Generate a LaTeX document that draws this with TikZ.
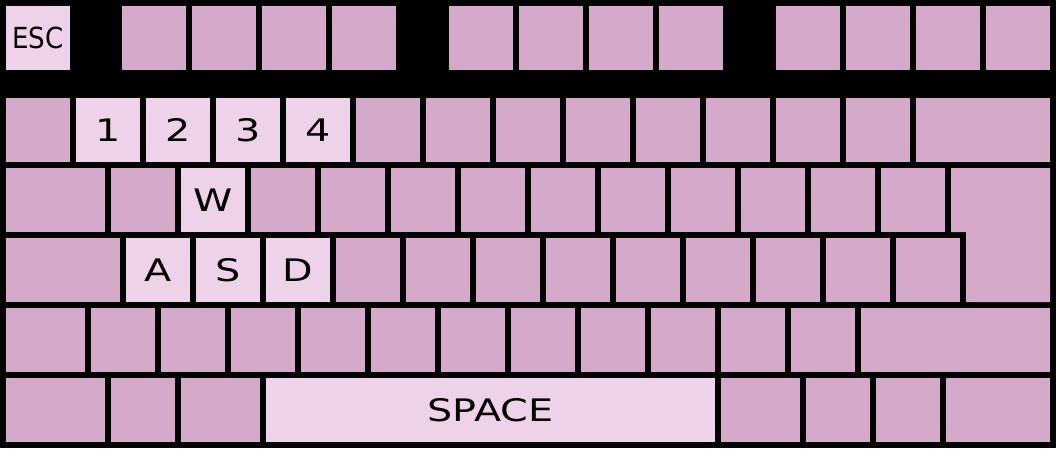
\documentclass[tikz,border=0pt]{standalone}
\usepackage{fontspec}
\newfontfamily\keyfont[FakeStretch=1.28]{DejaVu Sans}
\newfontfamily\escfont[FakeStretch=0.9]{DejaVu Sans}
\definecolor{keydark}{RGB}{212,169,201}
\definecolor{keylight}{RGB}{238,210,233}
\tikzset{
  keybase/.style={anchor=north west, inner sep=0pt, outer sep=0pt, minimum height=64pt, text depth=0pt},
  dk/.style={keybase, fill=keydark},
  lt/.style={keybase, fill=keylight, font=\keyfont\fontsize{31}{31}\selectfont},
  w/.style={minimum width=#1pt},
}
\begin{document}
\begin{tikzpicture}[x=1pt,y=-1pt]
\useasboundingbox (0,0) rectangle (1056,448);
\fill[black] (0,0) rectangle (1056,448);
% function row
\node[keybase, fill=keylight, w=64, font=\escfont\fontsize{29}{29}\selectfont] (esc) at (6,6) {ESC};
\foreach \x [count=\i] in {122,192,262,332,449,519,589,659,776,846,916,986}
  \node[dk, w=64] (f\i) at (\x,6) {};
% number row
\node[dk, w=64] (grave) at (6,98) {};
\foreach \x/\t in {76/1,146/2,216/3,286/4}
  \node[lt, w=64] (n\t) at (\x,98) {\t};
\foreach \x [count=\i from 5] in {356,426,496,566,636,706,776,846}
  \node[dk, w=64] (n\i) at (\x,98) {};
\node[dk, w=134] (bksp) at (916,98) {};
% tab row
\node[dk, w=99] (tab) at (6,168) {};
\node[dk, w=64] (q) at (111,168) {};
\node[lt, w=64] (wk) at (181,168) {W};
\foreach \x [count=\i] in {251,321,391,461,531,601,671,741,811,881}
  \node[dk, w=64] (t\i) at (\x,168) {};
\fill[keydark] (951,168) -- (1050,168) -- (1050,302) -- (966,302) -- (966,232) -- (951,232) -- cycle;
% caps row
\node[dk, w=114] (caps) at (6,238) {};
\node[lt, w=64] (ak) at (126,238) {A};
\node[lt, w=64] (sk) at (196,238) {S};
\node[lt, w=64] (dkey) at (266,238) {D};
\foreach \x [count=\i] in {336,406,476,546,616,686,756,826,896}
  \node[dk, w=64] (c\i) at (\x,238) {};
% shift row
\node[dk, w=79] (lshift) at (6,308) {};
\foreach \x [count=\i] in {91,161,231,301,371,441,511,581,651,721,791}
  \node[dk, w=64] (s\i) at (\x,308) {};
\node[dk, w=189] (rshift) at (861,308) {};
% bottom row
\node[dk, w=99] (b1) at (6,378) {};
\node[dk, w=64] (b2) at (111,378) {};
\node[dk, w=79] (b3) at (181,378) {};
\node[lt, w=449] (space) at (266,378) {SPACE};
\node[dk, w=79] (b4) at (721,378) {};
\node[dk, w=64] (b5) at (806,378) {};
\node[dk, w=64] (b6) at (876,378) {};
\node[dk, w=104] (b7) at (946,378) {};
\end{tikzpicture}
\end{document}
